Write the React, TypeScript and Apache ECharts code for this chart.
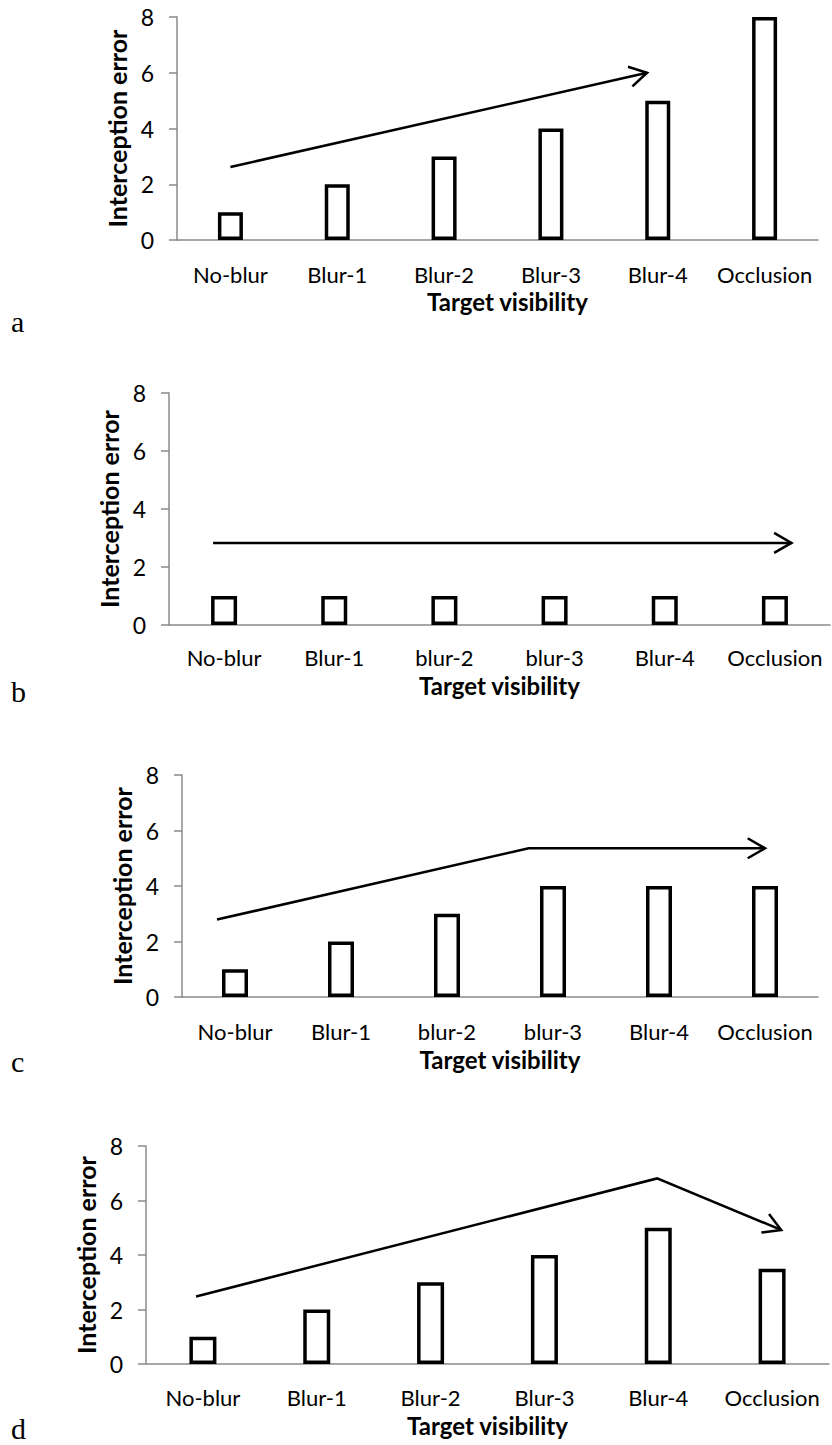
import React, { useEffect, useRef } from "react";
import * as echarts from "echarts";

// Category labels
const categoriesUpper = ["No-blur", "Blur-1", "Blur-2", "Blur-3", "Blur-4", "Occlusion"];
const categoriesLower = ["No-blur", "Blur-1", "blur-2", "blur-3", "Blur-4", "Occlusion"];

// Interception error per visibility condition
const valuesA = [1, 2, 3, 4, 5, 8];
const valuesB = [1, 1, 1, 1, 1, 1];
const valuesC = [1, 2, 3, 4, 4, 4];
const valuesD = [1, 2, 3, 4, 5, 3.5];

// Trend arrows: [category position, error] vertices, last one is the tip
const trendA = [[0, 2.62], [3.9, 6.0]];
const trendB = [[-0.1, 2.83], [5.15, 2.83]];
const trendC = [[-0.17, 2.79], [2.77, 5.36], [5.0, 5.36]];
const trendD = [[-0.06, 2.48], [3.99, 6.81], [5.08, 4.92]];

const yTicks = { min: 0, max: 8, interval: 2 };

const panelLetters = ["a", "b", "c", "d"];

const FONT = "Lato, 'Open Sans', sans-serif";
const AXIS_GRAY = "#8a8a8a";

type Panel = {
  grid: { left: number; right: number; top: number; height: number };
  cats: string[];
  values: number[];
  trend: number[][];
  labelMargin: number;
  nameGap: number;
  barWidth: number;
  letterTop: number;
};

const panels: Panel[] = [
  { grid: { left: 177, right: 14, top: 17, height: 223 }, cats: categoriesUpper, values: valuesA, trend: trendA, labelMargin: 25, nameGap: 51, barWidth: 25, letterTop: 306 },
  { grid: { left: 169, right: 2, top: 393, height: 232 }, cats: categoriesLower, values: valuesB, trend: trendB, labelMargin: 23, nameGap: 50, barWidth: 26, letterTop: 676 },
  { grid: { left: 182, right: 14, top: 775, height: 222 }, cats: categoriesLower, values: valuesC, trend: trendC, labelMargin: 25, nameGap: 52, barWidth: 26, letterTop: 1046 },
  { grid: { left: 146, right: 3, top: 1146, height: 218 }, cats: categoriesUpper, values: valuesD, trend: trendD, labelMargin: 24, nameGap: 51, barWidth: 27, letterTop: 1413 },
];

function arrowRenderer(trend: number[][]) {
  return (_params: any, api: any) => {
    const pts = trend.map((p) => api.coord(p));
    const n = pts.length;
    const tip = pts[n - 1];
    const prev = pts[n - 2];
    const ang = Math.atan2(tip[1] - prev[1], tip[0] - prev[0]);
    const len = 20;
    const half = Math.PI / 6;
    const head = [
      [tip[0] - len * Math.cos(ang - half), tip[1] - len * Math.sin(ang - half)],
      tip,
      [tip[0] - len * Math.cos(ang + half), tip[1] - len * Math.sin(ang + half)],
    ];
    const style = { stroke: "#000", lineWidth: 2.5, fill: null };
    return {
      type: "group",
      children: [
        { type: "polyline", shape: { points: pts }, style },
        { type: "polyline", shape: { points: head }, style },
      ],
    };
  };
}

export default function App() {
  const ref = useRef<HTMLDivElement>(null);

  useEffect(() => {
    if (!ref.current) return;
    const chart = echarts.init(ref.current, undefined, { renderer: "svg" });

    const grid: any[] = [];
    const xAxis: any[] = [];
    const yAxis: any[] = [];
    const series: any[] = [];

    panels.forEach((p, i) => {
      grid.push({ ...p.grid, containLabel: false });
      xAxis.push({
        type: "category",
        gridIndex: i,
        data: p.cats,
        boundaryGap: true,
        axisLine: { show: true, onZero: false, lineStyle: { color: AXIS_GRAY, width: 1.5 } },
        axisTick: { show: false },
        axisLabel: {
          color: "#000",
          fontFamily: FONT,
          fontSize: 22,
          lineHeight: 18,
          margin: p.labelMargin,
          interval: 0,
        },
        name: "Target visibility",
        nameLocation: "middle",
        nameGap: p.nameGap,
        nameTextStyle: {
          color: "#000",
          fontFamily: FONT,
          fontSize: 24,
          lineHeight: 20,
          fontWeight: "bold",
          padding: i === 0 ? [0, 0, 0, 20] : 0,
        },
      });
      // Hidden linear axis used to place the trend arrows between categories
      xAxis.push({
        type: "value",
        gridIndex: i,
        min: -0.5,
        max: 5.5,
        show: false,
      });
      yAxis.push({
        type: "value",
        gridIndex: i,
        ...yTicks,
        axisLine: { show: true, onZero: false, lineStyle: { color: AXIS_GRAY, width: 1.5 } },
        axisTick: { show: true, inside: false, length: 8, lineStyle: { color: AXIS_GRAY, width: 1.5 } },
        splitLine: { show: false },
        axisLabel: { color: "#000", fontFamily: FONT, fontSize: 23, margin: 23 },
        name: "Interception error",
        nameLocation: "middle",
        nameGap: 47,
        nameTextStyle: { color: "#000", fontFamily: FONT, fontSize: 25, lineHeight: 24, fontWeight: "bold" },
      });

      series.push({
        type: "bar",
        xAxisIndex: i * 2,
        yAxisIndex: i,
        data: p.values,
        barWidth: p.barWidth,
        itemStyle: { color: "#fff", borderColor: "#000", borderWidth: 3.5 },
        silent: true,
      });
      series.push({
        type: "custom",
        xAxisIndex: i * 2 + 1,
        yAxisIndex: i,
        data: [[0, 0]],
        renderItem: arrowRenderer(p.trend),
        silent: true,
        z: 5,
      });
    });

    chart.setOption({
      animation: false,
      backgroundColor: "#fff",
      grid,
      xAxis,
      yAxis,
      series,
      graphic: panels.map((p, i) => ({
        type: "text",
        left: 11,
        top: p.letterTop,
        style: {
          text: panelLetters[i],
          fontFamily: "'Liberation Serif', 'DejaVu Serif', serif",
          fontSize: 30,
          lineHeight: 30,
          fill: "#000",
        },
      })),
    });

    return () => chart.dispose();
  }, []);

  return (
    <div
      ref={ref}
      style={{ position: "absolute", left: 0, top: 0, width: 832, height: 1445 }}
    />
  );
}
